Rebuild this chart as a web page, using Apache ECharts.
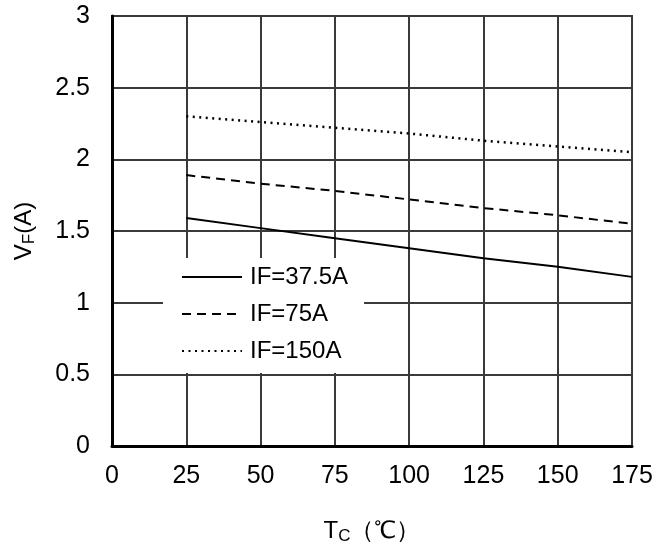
<!DOCTYPE html>
<html><head><meta charset="utf-8">
<script src="https://cdn.jsdelivr.net/npm/echarts@6/dist/echarts.min.js"></script>
<style>html,body{margin:0;padding:0;background:#fff}#c{width:670px;height:552px}</style>
</head><body><div id="c"></div>
<script>
const temps = [25, 50, 75, 100, 125, 150, 175];
const if375 = [1.59, 1.52, 1.45, 1.38, 1.31, 1.25, 1.18];
const if75 = [1.89, 1.83, 1.78, 1.72, 1.66, 1.61, 1.55];
const if150 = [2.30, 2.26, 2.22, 2.18, 2.13, 2.09, 2.05];
const seriesNames = ['IF=37.5A', 'IF=75A', 'IF=150A'];

const font = '"Liberation Sans", Arial, sans-serif';
const chart = echarts.init(document.getElementById('c'));
const mk = (name, vals, type, w) => ({
  name, type: 'line', symbol: 'none', animation: false,
  color: '#000',
  itemStyle: { color: '#000' },
  data: temps.map((t, i) => [t, vals[i]]),
  lineStyle: { color: '#000', width: w, type }
});
chart.setOption({
  animation: false,
  grid: { left: 112, right: 38, top: 16, bottom: 106, show: true, borderColor: '#3a3a3a', borderWidth: 2 },
  xAxis: {
    type: 'value', min: 0, max: 175, interval: 25,
    axisLine: { show: true, onZero: false, lineStyle: { color: '#000', width: 3 } },
    axisTick: { show: false },
    splitLine: { show: true, lineStyle: { color: '#3a3a3a', width: 2 } },
    axisLabel: { fontFamily: font, fontSize: 25, color: '#000', margin: 18 },
    name: '{a|T}{b|C}{a|（℃）}', nameLocation: 'middle', nameGap: 72,
    nameTextStyle: { rich: {
      a: { fontFamily: font, fontSize: 24, color: '#000' },
      b: { fontFamily: font, fontSize: 17, color: '#000', padding: [10, 0, 0, 0] }
    } }
  },
  yAxis: {
    type: 'value', min: 0, max: 3, interval: 0.5,
    axisLine: { show: true, lineStyle: { color: '#000', width: 3 } },
    axisTick: { show: false },
    splitLine: { show: true, lineStyle: { color: '#3a3a3a', width: 2 } },
    axisLabel: { fontFamily: font, fontSize: 25, color: '#000', margin: 22 },
    name: '{a|V}{b|F}{a|(A)}', nameLocation: 'middle', nameGap: 74, nameRotate: 90,
    nameTextStyle: { rich: {
      a: { fontFamily: font, fontSize: 24, color: '#000' },
      b: { fontFamily: font, fontSize: 17, color: '#000', padding: [10, 0, 0, 0] }
    } }
  },
  legend: {
    data: seriesNames, orient: 'vertical', left: 163, top: 258,
    backgroundColor: '#fff', padding: [7, 16, 10, 18], itemGap: 13,
    itemWidth: 60, itemHeight: 24,
    itemStyle: { opacity: 0 },
    textStyle: { fontFamily: font, fontSize: 24, color: '#000', padding: [0, 0, 0, 3] }
  },
  series: [
    mk(seriesNames[0], if375, 'solid', 2),
    mk(seriesNames[1], if75, [9, 6], 2),
    mk(seriesNames[2], if150, [2, 4.5], 2.5)
  ]
});
</script></body></html>
